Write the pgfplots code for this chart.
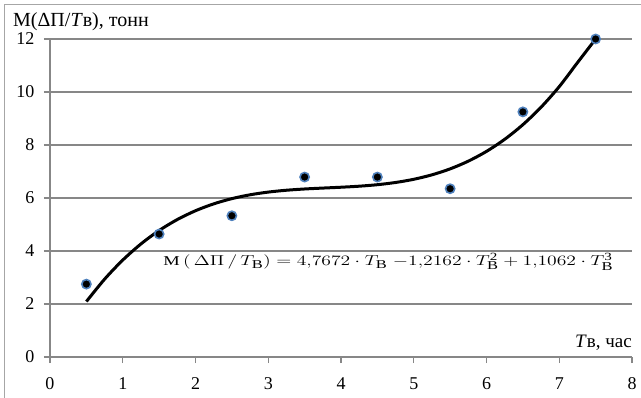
\documentclass[border=0pt]{standalone}
\usepackage{fontspec}
\setmainfont{Liberation Serif}
\usepackage{graphicx}
\usepackage{pgfplots}
\pgfplotsset{compat=1.18}
\definecolor{gridgray}{HTML}{878787}
\definecolor{frame}{HTML}{A6A6A6}
\definecolor{ring}{HTML}{4F81BD}
\newcommand\sub{\mbox{\fontsize{12bp}{12bp}\selectfont В}}
\newcommand\sups[1]{\mbox{\fontsize{11bp}{11bp}\selectfont #1}}
\begin{document}
\begin{tikzpicture}
\begin{axis}[
  scale only axis,
  width=582bp, height=318bp,
  xmin=0, xmax=8, ymin=0, ymax=12,
  xtick={0,1,...,8}, ytick={0,2,...,12},
  axis x line=bottom, axis y line=left,
  axis line style={-, gridgray, line width=1.3bp},
  tick style={gridgray, line width=1.3bp},
  tick align=outside,
  major tick length=6bp,
  ymajorgrids,
  grid style={gridgray, line width=1.3bp},
  /pgf/number format/assume math mode=true,
  ticklabel style={font=\fontsize{18bp}{20bp}\selectfont},
  xticklabel style={yshift=-11bp},
  yticklabel style={xshift=-6bp},
  clip=false,
]
\addplot[only marks, mark=*, mark size=4.6bp, mark options={fill=black, draw=ring, line width=1.6bp}]
 coordinates {(0.5,2.75) (1.5,4.64) (2.5,5.33) (3.5,6.79) (4.5,6.79) (5.5,6.35) (6.5,9.25) (7.5,12.0)};
\addplot[black, line width=3bp, smooth] coordinates {
(0.5,2.0928) (0.75,2.9361) (1.0,3.6572) (1.25,4.2661) (1.5,4.7728) (1.75,5.1872)
(2.0,5.5192) (2.25,5.7789) (2.5,5.9761) (2.75,6.1210) (3.0,6.2232) (3.25,6.2929)
(3.5,6.3401) (3.75,6.3746) (4.0,6.4064) (4.25,6.4453) (4.5,6.5018) (4.75,6.5857)
(5.0,6.7060) (5.25,6.8740) (5.5,7.0989) (5.75,7.3907) (6.0,7.7592) (6.25,8.2149)
(6.5,8.7669) (6.75,9.4260) (7.0,10.2032) (7.25,11.1064) (7.5,12.0)};
\node[anchor=center, inner sep=0, font=\fontsize{13.5bp}{15bp}\selectfont] at (axis cs:4.65,3.6)
 {\resizebox{450bp}{\height}{\(\mbox{М}\left(\,\Delta\Pi\,/\,T_{\sub}\right) = 4{,}7672\cdot T_{\sub}\;{-}1{,}2162\cdot T_{\sub}^{\sups{2}} + 1{,}1062\cdot T_{\sub}^{\sups{3}}\)}};
\node[anchor=base east, inner sep=0, font=\fontsize{19bp}{21bp}\selectfont] at ([yshift=10bp]rel axis cs:1,0) {\textit{Т}в, час};
\end{axis}
\node[anchor=base west, inner sep=0, font=\fontsize{20bp}{22bp}\selectfont] at (-37bp,330bp) {М(ΔП/\textit{Т}в), тонн};
\draw[frame, line width=1bp] (-45bp,-45bp) -- (-45bp,352bp) -- (595bp,352bp);
\pgfresetboundingbox
\useasboundingbox (-50bp,-41bp) rectangle (591bp,357bp);
\end{tikzpicture}
\end{document}
